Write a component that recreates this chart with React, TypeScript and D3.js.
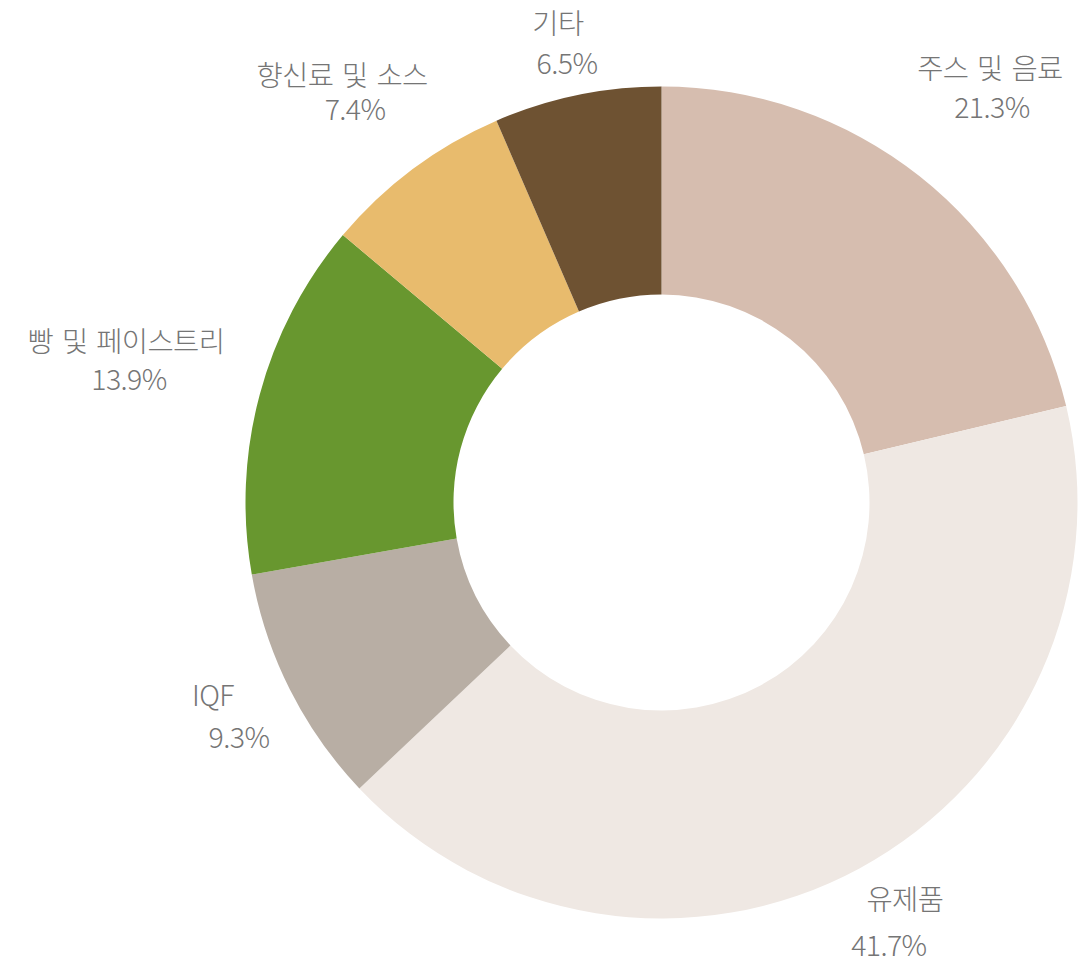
import React from "react";
import * as d3 from "d3";

const categories = ["주스 및 음료", "유제품", "IQF", "빵 및 페이스트리", "향신료 및 소스", "기타"];
const values = [21.3, 41.7, 9.3, 13.9, 7.4, 6.5];
const valueLabels = ["21.3%", "41.7%", "9.3%", "13.9%", "7.4%", "6.5%"];
const colors = ["#D6BDAF", "#EFE8E3", "#B8AEA4", "#68972F", "#E8BB6D", "#6E5232"];

// label layout (radius from centre, and per-line offsets)
const labelRadius = [531.5, 480, 484.6, 553, 517, 471];
const nameOffsets: [number, number][] = [[-1, -19.4], [15, -26.7], [-15.6, -26.3], [-1.4, -19.8], [-10.6, -14.5], [-8.1, -19.3]];
const valueOffsets: [number, number][] = [[1, 19.6], [-1, 19.3], [10.4, 15.7], [1.6, 18.2], [2.4, 19.6], [0.9, 20.7]];

const W = 1081;
const H = 958;
const CX = 661.5;
const CY = 502.5;
const R_OUT = 416;
const R_IN = 208;

export default function App() {
  const data = categories.map((c, i) => ({ name: c, value: values[i], label: valueLabels[i], color: colors[i], i }));
  const pie = d3.pie<any>().sort(null).value((d: any) => d.value).startAngle(0).endAngle(Math.PI * 2);
  const arcs = pie(data);
  const arcGen = d3.arc<any>().innerRadius(R_IN).outerRadius(R_OUT);
  const font = "'Noto Sans CJK KR', Roboto, sans-serif";

  return (
    <svg width={W} height={H} style={{ position: "absolute", left: 0, top: 0, display: "block" }}>
      <rect width={W} height={H} fill="#ffffff" />
      <g transform={`translate(${CX},${CY})`}>
        {arcs.map((a, i) => (
          <path key={i} d={arcGen(a) as string} fill={a.data.color} />
        ))}
        {arcs.map((a, i) => {
          const mid = (a.startAngle + a.endAngle) / 2;
          const r = labelRadius[i];
          const x = r * Math.sin(mid);
          const y = -r * Math.cos(mid);
          return (
            <g key={"l" + i} fill="#757575" fontFamily={font} fontSize={28.5} fontWeight={300} textAnchor="middle" style={{ letterSpacing: "-0.6px", wordSpacing: "3px" }}>
              <text x={x + nameOffsets[i][0]} y={y + nameOffsets[i][1]} dominantBaseline="central">{a.data.name}</text>
              <text x={x + valueOffsets[i][0]} y={y + valueOffsets[i][1]} dominantBaseline="central">{a.data.label}</text>
            </g>
          );
        })}
      </g>
    </svg>
  );
}
